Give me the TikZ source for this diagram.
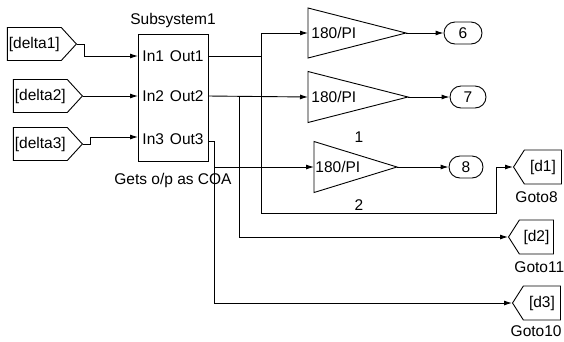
\documentclass[tikz,border=0pt]{standalone}
\usepackage{fontspec}
\setmainfont{Liberation Sans}
\usetikzlibrary{arrows.meta,shapes.symbols,shapes.misc,positioning}
\begin{document}
\begin{tikzpicture}[x=1pt,y=-1pt,line width=0.9pt,>={Latex[length=8pt,width=5pt]},
  every node/.style={font=\fontsize{15.5}{18}\selectfont,inner sep=1pt},
  fromtag/.style={draw,shape=signal,signal to=east,signal pointer angle=95,minimum height=33pt},
  gototag/.style={draw,shape=signal,signal to=west,signal pointer angle=115,minimum height=34pt},
  port/.style={draw,shape=rounded rectangle,minimum height=22pt,inner sep=1pt}]
  \useasboundingbox (0,0) rectangle (564,341);
  % from blocks
  \node[fromtag,anchor=east,minimum width=69pt] (del1) at (77,44) {[delta1]};
  \node[fromtag,anchor=east,minimum width=69pt] (del2) at (83,96) {[delta2]};
  \node[fromtag,anchor=east,minimum width=69pt] (del3) at (83,144) {[delta3]};
  % subsystem
  \node[draw,minimum width=70pt,minimum height=127pt] (sub) at (173,97.5) {};
  \node[above=4pt of sub] (subname) {Subsystem1};
  \node[below=10pt of sub] (coa) {Gets o/p as COA};
  \coordinate (in1) at (138,56);  \coordinate (out1) at (208,56);
  \coordinate (in2) at (138,96);  \coordinate (out2) at (208,96);
  \coordinate (in3) at (138,137); \coordinate (out3) at (208,141);
  \node[anchor=west] (lin1) at (141,56) {In1};  \node[anchor=east] (lout1) at (205,56) {Out1};
  \node[anchor=west] (lin2) at (141,96) {In2};  \node[anchor=east] (lout2) at (205,96) {Out2};
  \node[anchor=west] (lin3) at (141,139) {In3}; \node[anchor=east] (lout3) at (205,139) {Out3};
  % gains
  \coordinate (g1in) at (308,33);  \coordinate (g1out) at (406,33);
  \coordinate (g2in) at (308,97);  \coordinate (g2out) at (408,97);
  \coordinate (g3in) at (314,167); \coordinate (g3out) at (397,167);
  \draw (g1in) ++(0,-25) -- (g1out) -- ++(-98,25) -- cycle;
  \draw (g2in) ++(0,-25.5) -- (g2out) -- ++(-100,25.5) -- cycle;
  \draw (g3in) ++(0,-25.5) -- (g3out) -- ++(-83,25.5) -- cycle;
  \node[anchor=west] (gain1) at (310,33) {180/PI};
  \node[anchor=west] (gain2) at (310,97) {180/PI};
  \node[anchor=west] (gain3) at (314,167) {180/PI};
  % outports
  \node[port,minimum width=40pt] (p6) at (463,33) {6};
  \node[port,minimum width=38pt] (p7) at (468,97) {7};
  \node[port,minimum width=36pt] (p8) at (466,167) {8};
  % goto blocks
  \node[gototag,anchor=west,minimum width=48pt] (d1) at (513,167) {[d1]};
  \node[gototag,anchor=west,minimum width=45pt] (d2) at (508,237) {[d2]};
  \node[gototag,anchor=west,minimum width=48pt] (d3) at (512,303) {[d3]};
  \node[anchor=west] (goto8) at (514,197) {Goto8};
  \node[anchor=west] (goto11) at (513,267) {Goto11};
  \node[anchor=east] (goto10) at (563,331) {Goto10};
  % signal labels
  \node (one) at (359,137) {1};
  \node (two) at (359,205) {2};
  % connectors
  \draw[->] (del1.east) -- (84,44) |- (in1);
  \draw[->] (del2.east) -- (in2);
  \draw[->] (del3.east) -- (90,144) |- (in3);
  \draw (out1) -- (261,56);
  \draw[->] (261,213) -- (261,33) -- (g1in);
  \draw[->] (261,213) -- (496,213) |- (d1.west);
  \draw[->] (out2) -- (g2in);
  \draw[->] (239,96) |- (d2.west);
  \draw[->] (out3) -- (214,141) |- (d3.west);
  \draw[->] (214,167) -- (g3in);
  \draw[->] (g1out) -- (p6.west);
  \draw[->] (g2out) -- (p7.west);
  \draw[->] (g3out) -- (p8.west);
\end{tikzpicture}
\end{document}
